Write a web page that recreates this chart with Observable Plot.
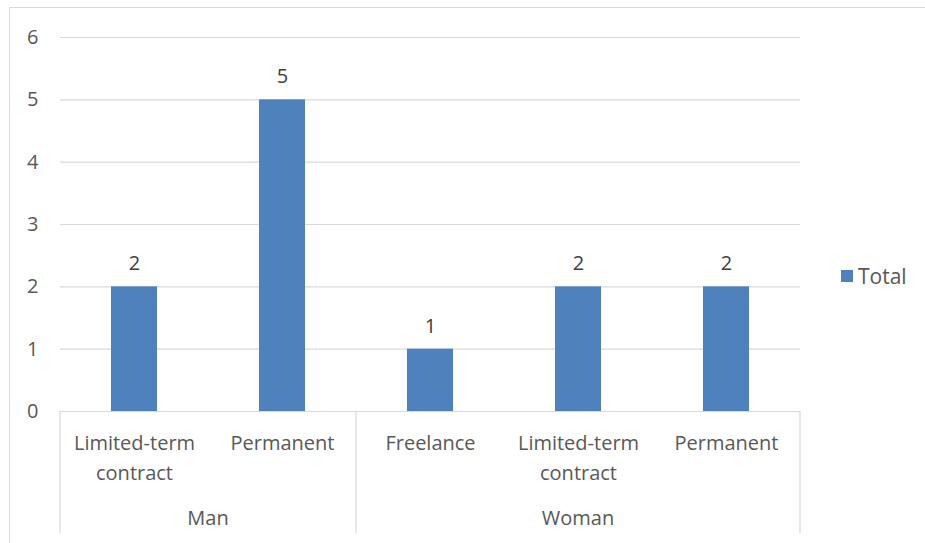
<!DOCTYPE html>
<html>
<head>
<meta charset="utf-8">
<script src="https://cdn.jsdelivr.net/npm/d3@7"></script>
<script src="https://cdn.jsdelivr.net/npm/@observablehq/plot@0.6"></script>
<style>
  html, body { margin: 0; padding: 0; background: #fff; }
  #wrap { position: relative; width: 925px; height: 543px; overflow: hidden; font-family: "Open Sans", sans-serif; }
  #border { position: absolute; left: 9px; top: 7px; width: 2000px; height: 2000px; border-left: 1px solid #d9d9d9; border-top: 1px solid #d9d9d9; pointer-events: none; }
  #legend { position: absolute; left: 841px; top: 262px; display: flex; align-items: center; font-size: 21px; color: #595959; }
  #legend .sw { width: 12px; height: 12px; background: #4F81BD; margin-right: 5px; }
</style>
</head>
<body>
<div id="wrap"><div id="chart"></div><div id="legend"><div class="sw"></div><span>Total</span></div><div id="border"></div></div>
<script>
const groups = ["Man", "Man", "Woman", "Woman", "Woman"];
const categories = ["Limited-term contract", "Permanent", "Freelance", "Limited-term contract", "Permanent"];
const totals = [2, 5, 1, 2, 2];
const yTicks = [0, 1, 2, 3, 4, 5, 6];
const seriesName = "Total";

const data = categories.map((c, i) => ({key: groups[i] + "|" + c, group: groups[i], cat: c, value: totals[i]}));
const keys = data.map(d => d.key);

const blue = "#4F81BD";
const grid = "#d9d9d9";
const textColor = "#595959";

const plot = Plot.plot({
  width: 925,
  height: 543,
  marginLeft: 60,
  marginRight: 125,
  marginTop: 37,
  marginBottom: 132,
  style: {background: "transparent", fontFamily: "Open Sans, sans-serif", fontSize: "20px", color: textColor},
  x: {domain: keys, paddingInner: 0.69, paddingOuter: 0.345, axis: null},
  y: {domain: [0, 6], ticks: yTicks, axis: null},
  marks: [
    Plot.ruleY(yTicks, {stroke: grid, strokeWidth: 1.2}),
    Plot.barY(data, {x: "key", y: "value", fill: blue}),
    Plot.axisY(yTicks, {tickSize: 0, tickPadding: 22, fill: textColor, fontSize: 20, label: null, tickFormat: d => String(d)}),
    Plot.text(data, {x: "key", y: "value", text: d => String(d.value), dy: -23, fill: "#404040", fontSize: 20}),
    Plot.text(data, {x: "key", y: 0, text: "cat", lineAnchor: "top", dy: 17, lineWidth: 7.2, lineHeight: 1.5, fill: textColor, fontSize: 20})
  ]
});

document.getElementById("chart").appendChild(plot);

// multi-level category axis: separators and group labels from the plot's x scale
const xs = plot.scale("x");
const ys = plot.scale("y");
const step = xs.step;
const bw = xs.bandwidth;
const y0 = ys.apply(0);
const svg = d3.select(plot);
const g = svg.append("g");
const leftEdge = k => xs.apply(k) - (step - bw) / 2;
const rightEdge = k => xs.apply(k) + bw + (step - bw) / 2;
const uniqGroups = [...new Set(groups)];
const edges = [];
uniqGroups.forEach((gr, gi) => {
  const ks = data.filter(d => d.group === gr).map(d => d.key);
  const l = leftEdge(ks[0]), r = rightEdge(ks[ks.length - 1]);
  if (gi === 0) edges.push(l);
  edges.push(r);
  g.append("text").attr("x", (l + r) / 2).attr("y", y0 + 114).attr("text-anchor", "middle")
    .attr("fill", textColor).attr("font-size", 20).attr("font-family", "Open Sans, sans-serif").text(gr);
});
edges.forEach(x => {
  g.append("line").attr("x1", x).attr("x2", x).attr("y1", y0).attr("y2", y0 + 122)
    .attr("stroke", grid).attr("stroke-width", 1.2);
});
</script>
</body>
</html>
